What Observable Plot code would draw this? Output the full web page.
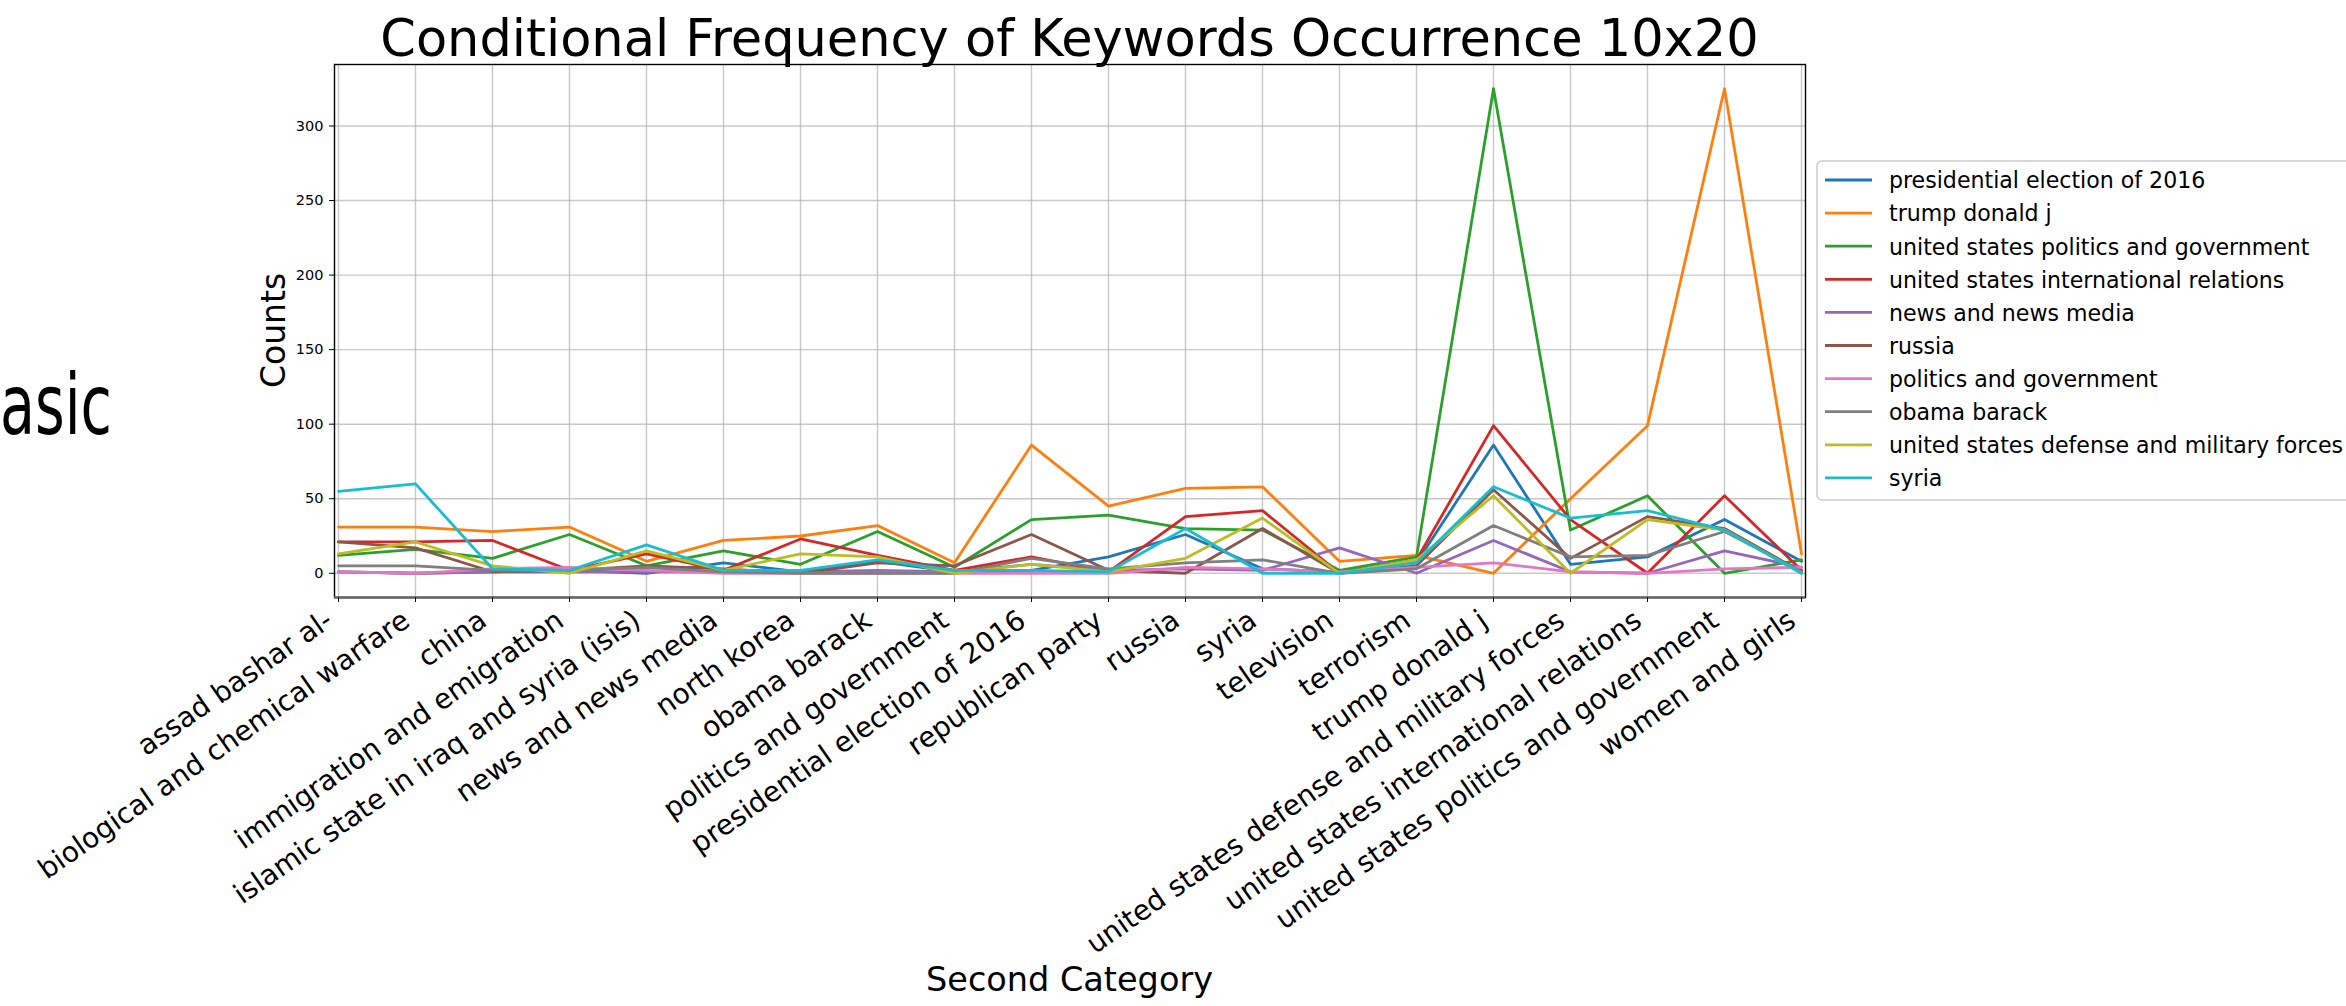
<!DOCTYPE html>
<html>
<head>
<meta charset="utf-8">
<script src="https://cdn.jsdelivr.net/npm/d3@7"></script>
<script src="https://cdn.jsdelivr.net/npm/@observablehq/plot@0.6"></script>
<style>
  html, body { margin: 0; padding: 0; background: white; overflow: hidden; }
  #chart { width: 2346px; height: 1006px; position: relative; overflow: hidden; }
</style>
</head>
<body>
<div id="chart"></div>
<script>
const titleText = "Conditional Frequency of Keywords Occurrence 10x20";
const xLabel = "Second Category";
const yLabel = "Counts";
const sideText = "asic";

const categories = [
  "assad bashar al-", "biological and chemical warfare", "china", "immigration and emigration",
  "islamic state in iraq and syria (isis)", "news and news media", "north korea", "obama barack",
  "politics and government", "presidential election of 2016", "republican party", "russia",
  "syria", "television", "terrorism", "trump donald j", "united states defense and military forces",
  "united states international relations", "united states politics and government", "women and girls"
];

const seriesNames = [
  "presidential election of 2016", "trump donald j", "united states politics and government",
  "united states international relations", "news and news media", "russia",
  "politics and government", "obama barack", "united states defense and military forces", "syria"
];

const presidentialElection = [1, 0, 1, 2, 0, 7, 1, 8, 1, 2, 11, 26, 3, 1, 7, 86, 6, 11, 36, 8];
const trumpDonald          = [31, 31, 28, 31, 8, 22, 25, 32, 7, 86, 45, 57, 58, 8, 12, 0, 50, 99, 325, 13];
const usPolitics           = [12, 16, 10, 26, 5, 15, 6, 28, 4, 36, 39, 30, 29, 2, 11, 325, 29, 52, 0, 9];
const usIntlRelations      = [21, 21, 22, 2, 13, 2, 23, 12, 2, 11, 1, 38, 42, 0, 9, 99, 36, 0, 52, 2];
const newsMedia            = [1, 0, 1, 1, 1, 1, 1, 2, 1, 6, 2, 3, 2, 17, 0, 22, 1, 0, 15, 4];
const russia               = [21, 17, 1, 2, 5, 3, 0, 7, 5, 26, 2, 0, 30, 0, 5, 56, 10, 38, 30, 1];
const politicsGovernment   = [1, 0, 3, 4, 2, 0, 0, 0, 0, 0, 0, 4, 3, 1, 4, 7, 1, 0, 3, 4];
const obamaBarack          = [5, 5, 2, 2, 4, 1, 0, 0, 0, 10, 3, 7, 9, 0, 3, 32, 11, 12, 28, 1];
const usDefense            = [13, 21, 5, 0, 15, 2, 13, 11, 0, 6, 1, 10, 37, 0, 9, 52, 0, 36, 29, 0];
const syria                = [55, 60, 3, 2, 19, 2, 2, 9, 2, 2, 1, 30, 0, 0, 7, 58, 37, 42, 29, 0];

const yTicks = [0, 50, 100, 150, 200, 250, 300];
const colors = ["#1f77b4", "#ff7f0e", "#2ca02c", "#d62728", "#9467bd", "#8c564b", "#e377c2", "#7f7f7f", "#bcbd22", "#17becf"];

const seriesValues = [presidentialElection, trumpDonald, usPolitics, usIntlRelations, newsMedia,
  russia, politicsGovernment, obamaBarack, usDefense, syria];

const tidy = [];
seriesNames.forEach((s, i) => {
  categories.forEach((c, j) => tidy.push({series: s, category: c, value: seriesValues[i][j]}));
});

const yMin = d3.min(tidy, d => d.value), yMax = d3.max(tidy, d => d.value);
const pad = 0.05 * (yMax - yMin);
const yDomain = [yMin - pad, yMax + pad];

const W = 2346, H = 1006;
const font = "DejaVu Sans";

const plot = Plot.plot({
  width: W,
  height: H,
  marginLeft: 334,
  marginRight: 541,
  marginTop: 64,
  marginBottom: 409,
  style: {fontFamily: font, background: "white", color: "black", overflow: "hidden"},
  x: {type: "point", domain: categories, padding: 0, label: null},
  y: {domain: yDomain, label: null},
  color: {domain: seriesNames, range: colors},
  marks: [
    Plot.gridX({stroke: "#b0b0b0", strokeOpacity: 0.7, strokeWidth: 1.4}),
    Plot.gridY({ticks: yTicks, stroke: "#b0b0b0", strokeOpacity: 0.7, strokeWidth: 1.4}),
    Plot.line(tidy, {x: "category", y: "value", z: "series", stroke: "series", strokeWidth: 2.8}),
    Plot.frame({stroke: "black", strokeWidth: 1.4}),
    Plot.ruleY([yDomain[0]], {stroke: "#666", strokeWidth: 2.4}),
    Plot.axisY({ticks: yTicks, tickSize: 5, tickPadding: 6, fontSize: 14.5, label: null}),
    Plot.axisX({tickSize: 5, tickFormat: () => "", label: null}),
    Plot.text(categories, {
      x: d => d, frameAnchor: "bottom", rotate: -35, textAnchor: "end", lineAnchor: "bottom",
      dx: -4, dy: 27, fontSize: 28, fill: "black"
    })
  ]
});

document.getElementById("chart").appendChild(plot);
const svg = d3.select(plot);

// Title
svg.append("text").attr("x", 1069.5).attr("y", 55.5).attr("text-anchor", "middle")
  .style("font-family", font).style("font-size", "51px").attr("fill", "black").text(titleText);

// Axis labels
svg.append("text").attr("transform", "translate(285,330.5) rotate(-90)").attr("text-anchor", "middle")
  .style("font-family", font).style("font-size", "33px").attr("fill", "black").text(yLabel);
svg.append("text").attr("x", 1069.5).attr("y", 991).attr("text-anchor", "middle")
  .style("font-family", font).style("font-size", "33.5px").attr("fill", "black").text(xLabel);

// Side text at the left edge (narrow face)
svg.append("text").attr("transform", "translate(0,434) scale(0.68,1)").attr("text-anchor", "start")
  .style("font-family", font).style("font-size", "84px").attr("fill", "black").text(sideText);

// Legend
const lg = svg.append("g").attr("text-anchor", "start");
lg.append("rect").attr("x", 1817).attr("y", 161).attr("width", 640).attr("height", 339)
  .attr("rx", 5).attr("fill", "white").attr("fill-opacity", 0.85).attr("stroke", "#cccccc").attr("stroke-width", 1.5);
seriesNames.forEach((s, i) => {
  const cy = 180 + 33.1 * i;
  lg.append("line").attr("x1", 1825).attr("x2", 1872).attr("y1", cy).attr("y2", cy)
    .attr("stroke", colors[i]).attr("stroke-width", 2.8);
  lg.append("text").attr("x", 1889).attr("y", cy + 8.3).attr("text-anchor", "start")
    .style("font-family", font).style("font-size", "22.1px").attr("fill", "black").text(s);
});
</script>
</body>
</html>
